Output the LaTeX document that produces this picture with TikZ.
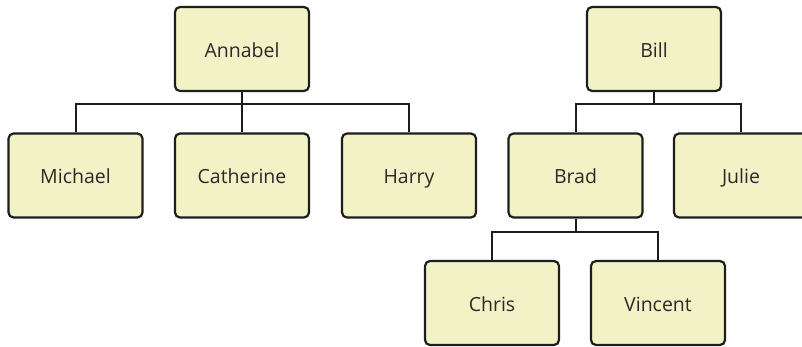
\documentclass[tikz,border=0pt]{standalone}
\usepackage{fontspec}
\setmainfont{Open Sans}
\definecolor{boxfill}{HTML}{F3F1C6}
\definecolor{boxline}{HTML}{1E1E1E}
\definecolor{txt}{HTML}{2A2A2A}
\begin{document}
\begin{tikzpicture}[x=1pt,y=-1pt,
  person/.style={draw=boxline, line width=2.2pt, fill=boxfill, rounded corners=5pt,
    minimum width=134pt, minimum height=84pt, inner sep=0pt, text=txt,
    text height=18pt, text depth=2pt,
    font=\fontsize{19.5}{22}\selectfont},
  link/.style={draw=boxline, line width=2pt}]
\useasboundingbox (0,0) rectangle (802,346);
\fill[white] (0,0) rectangle (802,346);
\node[person] (annabel) at (242,49) {Annabel};
\node[person] (michael) at (75.5,175.5) {Michael};
\node[person] (catherine) at (242,175.5) {Catherine};
\node[person] (harry) at (409,175.5) {Harry};
\node[person] (bill) at (654,49) {Bill};
\node[person] (brad) at (575.5,175.5) {Brad};
\node[person] (julie) at (741,175.5) {Julie};
\node[person] (chris) at (492,303) {Chris};
\node[person] (vincent) at (658,303) {Vincent};
\coordinate (r1) at (0,104);
\coordinate (r2) at (0,232);
\draw[link] (annabel.south) -- (catherine.north);
\draw[link] (michael.north) -- (michael.north |- r1) -- (harry.north |- r1) -- (harry.north);
\draw[link] (bill.south) -- (bill.south |- r1);
\draw[link] (brad.north) -- (brad.north |- r1) -- (julie.north |- r1) -- (julie.north);
\draw[link] (brad.south) -- (brad.south |- r2);
\draw[link] (chris.north) -- (chris.north |- r2) -- (vincent.north |- r2) -- (vincent.north);
\end{tikzpicture}
\end{document}
